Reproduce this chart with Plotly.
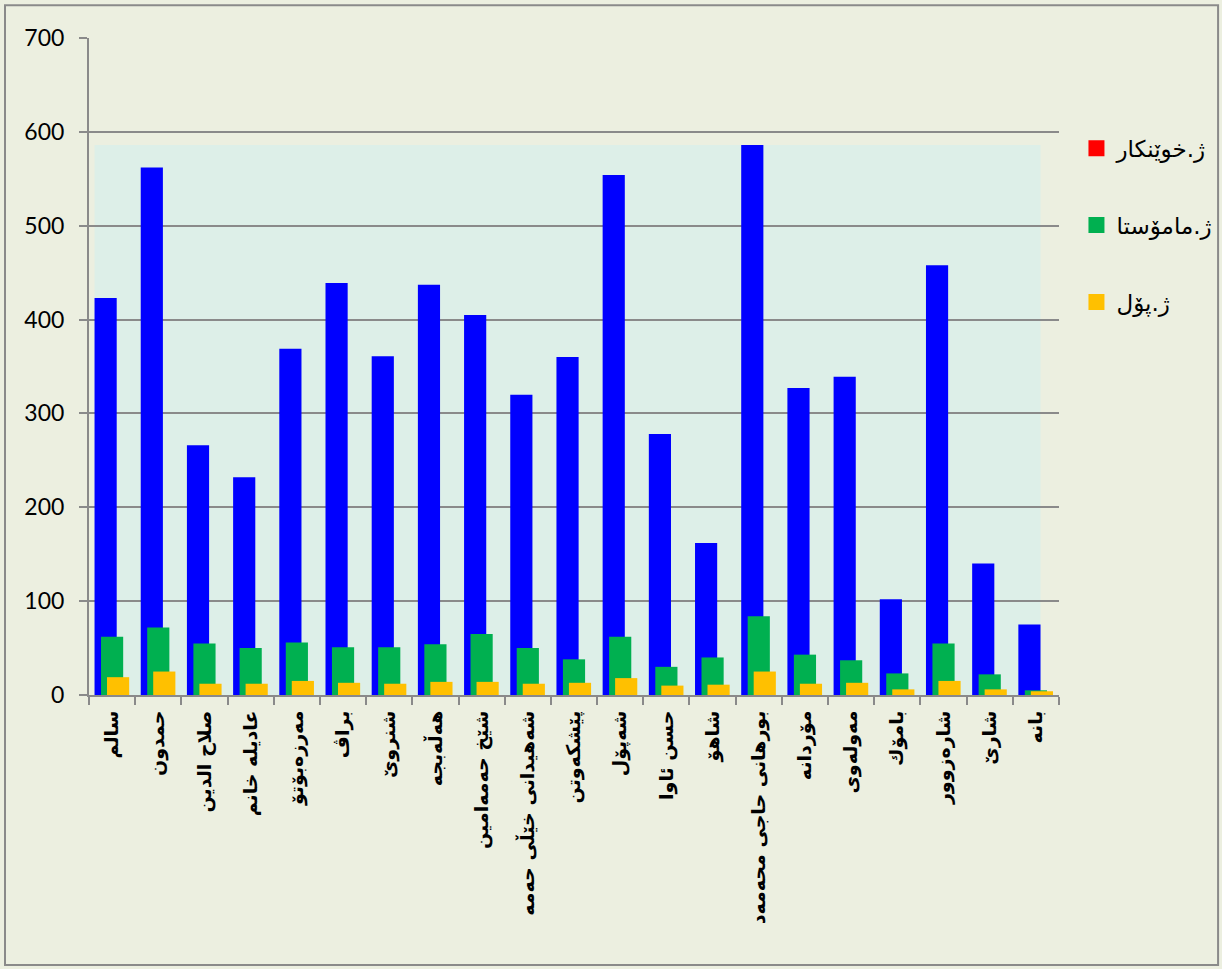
import plotly.graph_objects as go

categories = ["سالم", "حمدون", "صلاح الدین", "عادیلە خانم", "مەرزەبۆتۆ", "براڤ", "شنروێ",
              "هەڵەبجە", "شێخ حەمەامین", "شەهیدانی خێڵی حەمە", "پێشکەوتن", "شەپۆل",
              "حسن ئاوا", "شاهۆ", "بورهانی حاجی محەمەد", "مۆردانە", "مەولەوی", "بامۆك",
              "شارەزوور", "شارێ", "بانە"]
students = [423, 562, 266, 232, 369, 439, 361, 437, 405, 320, 360, 554, 278, 162, 586,
            327, 339, 102, 458, 140, 75]
teachers = [62, 72, 55, 50, 56, 51, 51, 54, 65, 50, 38, 62, 30, 40, 84, 43, 37, 23, 55, 22, 5]
classes = [19, 25, 12, 12, 15, 13, 12, 14, 14, 12, 13, 18, 10, 11, 25, 12, 13, 6, 15, 6, 4]
y_ticks = [0, 100, 200, 300, 400, 500, 600, 700]
legend_names = ["ژ.خوێنکار", "ژ.مامۆستا", "ژ.پۆل"]
legend_colors = ["#FF0000", "#00B050", "#FFC000"]

BLUE, GREEN, ORANGE = "#0000FF", "#00B050", "#FFC000"
BG = "#ECEFE0"
W = 0.48

fig = go.Figure()
fig.add_trace(go.Bar(x=categories, y=students, marker=dict(color=BLUE, line=dict(width=0)),
                     width=W, offset=-0.38, showlegend=False, name=legend_names[0]))
fig.add_trace(go.Bar(x=categories, y=teachers, marker=dict(color=GREEN, line=dict(width=0)),
                     width=W, offset=-0.24, showlegend=False, name=legend_names[1]))
fig.add_trace(go.Bar(x=categories, y=classes, marker=dict(color=ORANGE, line=dict(width=0)),
                     width=W, offset=-0.11, showlegend=False, name=legend_names[2]))

# legend entries (square swatches as in the original)
for i, (nm, col) in enumerate(zip(legend_names, legend_colors)):
    fig.add_trace(go.Scatter(x=[None], y=[None], mode="markers", name=nm,
                             legendgroup=f"g{i}",
                             marker=dict(symbol="square", size=18, color=col)))

# light cyan backdrop behind the bars up to the max value
fig.add_shape(type="rect", xref="x", yref="y", x0=-0.38, x1=len(categories) - 1 + (-0.38 + W),
              y0=0, y1=max(students), fillcolor="#DDEFE8", line=dict(width=0), layer="below")
# outer border
fig.add_shape(type="rect", xref="paper", yref="paper", x0=-0.0866, x1=1.164, y0=-0.411, y1=1.050,
              line=dict(color="#8A8A8A", width=2), fillcolor="rgba(0,0,0,0)")

fig.update_layout(
    width=1222, height=969,
    margin=dict(l=89, r=163, t=38, b=274, autoexpand=False),
    paper_bgcolor=BG, plot_bgcolor=BG,
    barmode="overlay",
    font=dict(family="Lato, DejaVu Sans, sans-serif", color="#000000"),
    legend=dict(x=1.018, y=0.865, xanchor="left", yanchor="top",
                font=dict(size=23, family="DejaVu Sans"),
                tracegroupgap=44, bgcolor="rgba(0,0,0,0)", traceorder="grouped"),
    xaxis=dict(type="category", range=[-0.5, len(categories) - 0.5], tickangle=-90,
               tickson="boundaries", ticks="outside", ticklen=8, tickcolor="#8A8A8A",
               tickwidth=2, showline=True, linecolor="#8A8A8A", linewidth=2,
               tickfont=dict(size=19, family="DejaVu Sans", weight="bold"), showgrid=False,
               ticklabelstandoff=6, automargin=False),
    yaxis=dict(range=[0, 700], tickvals=y_ticks, ticks="outside", ticklen=8,
               tickcolor="#8A8A8A", tickwidth=2, showline=True, linecolor="#8A8A8A",
               linewidth=2, gridcolor="#8A8A8A", gridwidth=2, zeroline=False,
               tickfont=dict(size=23), ticklabelstandoff=10, automargin=False),
)

fig.write_html("out.html", config={"displayModeBar": False},
               post_script="document.body.style.margin='0';")
